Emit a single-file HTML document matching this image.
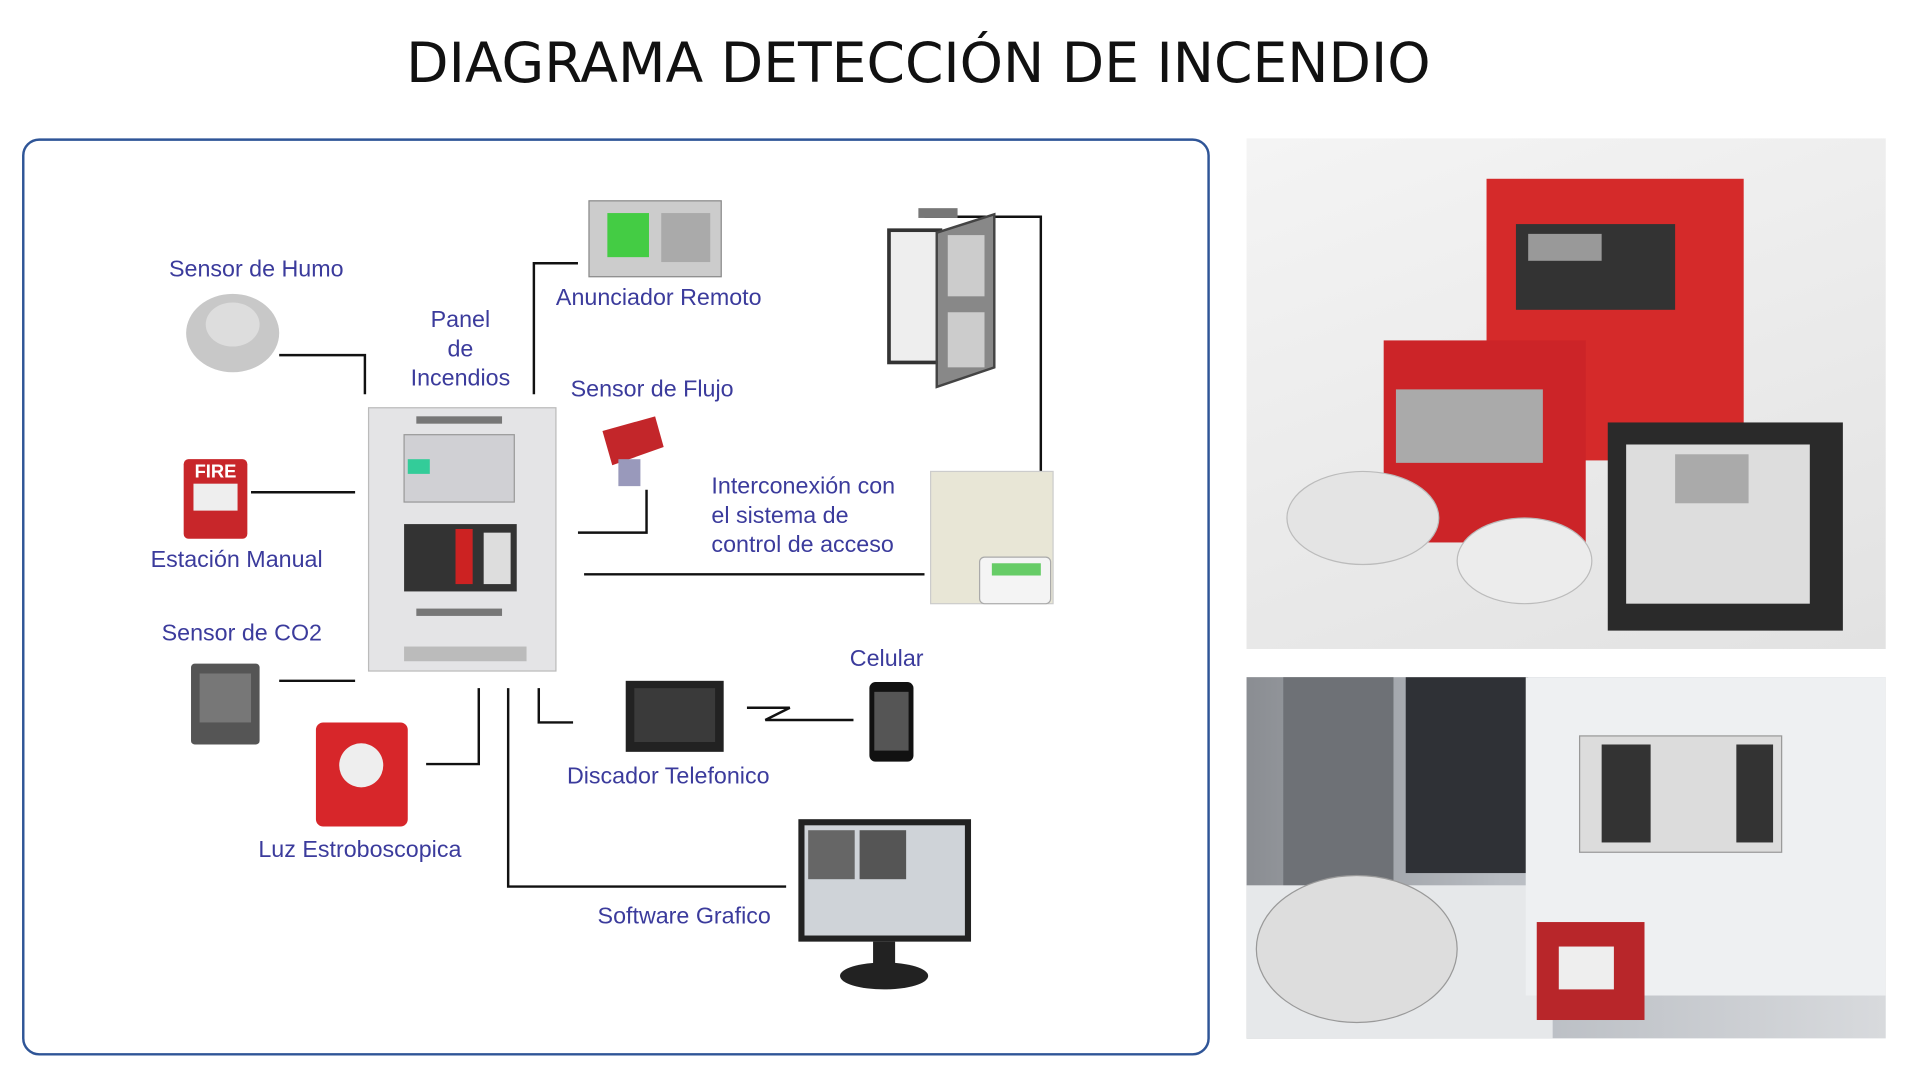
<!DOCTYPE html>
<html><head><meta charset="utf-8"><style>
html,body{margin:0;padding:0;width:1920px;height:1080px;overflow:hidden;background:#fff}
#s{position:absolute;left:0;top:0;width:1560px;height:882px;transform:scale(1.2245);transform-origin:0 0}
.t{position:absolute;font-family:"Liberation Sans",sans-serif;color:#3b3b9c;font-size:19px;line-height:24px;white-space:nowrap}
.a{position:absolute}
</style></head><body><div id="s">
<div class="a" style="left:0;top:25px;width:1500px;text-align:center;font-family:'DejaVu Sans','Liberation Sans',sans-serif;font-size:45px;color:#111">DIAGRAMA DETECCIÓN DE INCENDIO</div>
<div class="a" style="left:18px;top:113px;width:966px;height:745px;border:2px solid #2f5597;border-radius:14px"></div>

<svg class="a" style="left:0;top:0" width="1560" height="878">
<g stroke="#111" stroke-width="2" fill="none">
<polyline points="228,290 298,290 298,322"/>
<line x1="205" y1="402" x2="290" y2="402"/>
<line x1="228" y1="556" x2="290" y2="556"/>
<polyline points="348,624 391,624 391,562"/>
<polyline points="415,562 415,724 642,724"/>
<polyline points="440,562 440,590 468,590"/>
<polyline points="610,578 645,578 625,588 697,588"/>
<line x1="477" y1="469" x2="755" y2="469"/>
<polyline points="472,435 528,435 528,400"/>
<polyline points="436,322 436,215 472,215"/>
<polyline points="755,177 850,177 850,385"/>
</g>
<rect x="301" y="333" width="153" height="215" fill="#e4e4e6" stroke="#bbb"/>
<rect x="340" y="340" width="70" height="6" fill="#777"/>
<rect x="330" y="355" width="90" height="55" fill="#d0d0d4" stroke="#999"/>
<rect x="333" y="375" width="18" height="12" fill="#3c9"/>
<rect x="330" y="428" width="92" height="55" fill="#333"/>
<rect x="372" y="432" width="14" height="45" fill="#c22"/>
<rect x="395" y="435" width="22" height="42" fill="#ddd"/>
<rect x="340" y="497" width="70" height="6" fill="#777"/>
<rect x="330" y="528" width="100" height="12" fill="#bbb"/>
<ellipse cx="190" cy="272" rx="38" ry="32" fill="#c8c8c8"/><ellipse cx="190" cy="265" rx="22" ry="18" fill="#ddd"/>
<rect x="150" y="375" width="52" height="65" rx="4" fill="#c8262a"/><text x="176" y="390" font-family="Liberation Sans" font-size="15" font-weight="bold" fill="#fff" text-anchor="middle">FIRE</text><rect x="158" y="395" width="36" height="22" fill="#eee"/>
<rect x="156" y="542" width="56" height="66" rx="3" fill="#555"/><rect x="163" y="550" width="42" height="40" fill="#777"/>
<rect x="258" y="590" width="75" height="85" rx="6" fill="#d7262a"/><circle cx="295" cy="625" r="18" fill="#eee"/>
<rect x="481" y="164" width="108" height="62" fill="#ccc" stroke="#888"/><rect x="496" y="174" width="34" height="36" fill="#4c4"/><rect x="540" y="174" width="40" height="40" fill="#aaa"/>
<path d="M492,352 L535,340 L542,365 L500,380 Z" fill="#c3262a"/><rect x="505" y="375" width="18" height="22" fill="#99b"/>
<rect x="726" y="188" width="42" height="108" fill="#eee" stroke="#333" stroke-width="3"/>
<path d="M765,190 L812,175 L812,300 L765,316 Z" fill="#888" stroke="#444" stroke-width="2"/><rect x="774" y="192" width="30" height="50" fill="#ccc"/><rect x="774" y="255" width="30" height="45" fill="#ccc"/>
<rect x="750" y="170" width="32" height="8" fill="#777"/>
<rect x="760" y="385" width="100" height="108" fill="#e8e6d6" stroke="#ccc"/><rect x="800" y="455" width="58" height="38" rx="4" fill="#f4f4f4" stroke="#aaa"/><rect x="810" y="460" width="40" height="10" fill="#6c6"/>
<rect x="511" y="556" width="80" height="58" fill="#222"/><rect x="518" y="562" width="66" height="44" fill="#3a3a3a"/>
<rect x="710" y="557" width="36" height="65" rx="5" fill="#111"/><rect x="714" y="565" width="28" height="48" fill="#555"/>
<rect x="652" y="669" width="141" height="100" fill="#222"/><rect x="657" y="674" width="131" height="90" fill="#cfd3d8"/><rect x="660" y="678" width="38" height="40" fill="#666"/><rect x="702" y="678" width="38" height="40" fill="#555"/>
<rect x="713" y="769" width="18" height="20" fill="#222"/><ellipse cx="722" cy="797" rx="36" ry="11" fill="#222"/>
</svg>

<div class="t" style="left:138px;top:209px">Sensor de Humo</div>
<div class="t" style="left:334px;top:250px;text-align:center;width:84px">Panel<br>de<br>Incendios</div>
<div class="t" style="left:454px;top:232px">Anunciador Remoto</div>
<div class="t" style="left:466px;top:307px">Sensor de Flujo</div>
<div class="t" style="left:581px;top:386px">Interconexión con<br>el sistema de<br>control de acceso</div>
<div class="t" style="left:123px;top:446px">Estación Manual</div>
<div class="t" style="left:132px;top:506px">Sensor de CO2</div>
<div class="t" style="left:694px;top:527px">Celular</div>
<div class="t" style="left:463px;top:623px">Discador Telefonico</div>
<div class="t" style="left:211px;top:683px">Luz Estroboscopica</div>
<div class="t" style="left:488px;top:737px">Software Grafico</div>

<div class="a" style="left:1018px;top:113px;width:522px;height:417px;background:linear-gradient(160deg,#f4f4f4,#e2e2e2)">
<svg width="522" height="417">
<rect x="196" y="33" width="210" height="230" fill="#d52a2a"/><rect x="220" y="70" width="130" height="70" fill="#333"/><rect x="230" y="78" width="60" height="22" fill="#999"/>
<rect x="112" y="165" width="165" height="165" fill="#cc2428"/><rect x="122" y="205" width="120" height="60" fill="#aaa"/>
<rect x="295" y="232" width="192" height="170" fill="#2a2a2a"/><rect x="310" y="250" width="150" height="130" fill="#ddd"/><rect x="350" y="258" width="60" height="40" fill="#aaa"/>
<ellipse cx="95" cy="310" rx="62" ry="38" fill="#e4e4e4" stroke="#bbb"/>
<ellipse cx="227" cy="345" rx="55" ry="35" fill="#ececec" stroke="#bbb"/>
</svg></div>
<div class="a" style="left:1018px;top:553px;width:522px;height:295px;background:linear-gradient(90deg,#8a8d92,#b8bcc2 40%,#d8dadd)">
<svg width="522" height="295">
<rect x="30" y="0" width="90" height="200" fill="#6e7176"/><rect x="130" y="0" width="100" height="160" fill="#2f3136"/>
<rect x="0" y="170" width="250" height="125" fill="#e6e8ea"/>
<rect x="228" y="0" width="294" height="260" fill="#eef0f2"/>
<rect x="272" y="48" width="165" height="95" fill="#dcdcdc" stroke="#999"/><rect x="290" y="55" width="40" height="80" fill="#333"/><rect x="400" y="55" width="30" height="80" fill="#333"/>
<ellipse cx="90" cy="222" rx="82" ry="60" fill="#ddd" stroke="#999"/>
<rect x="237" y="200" width="88" height="80" fill="#b8262a"/><rect x="255" y="220" width="45" height="35" fill="#eee"/>
</svg></div>
</div></body></html>
